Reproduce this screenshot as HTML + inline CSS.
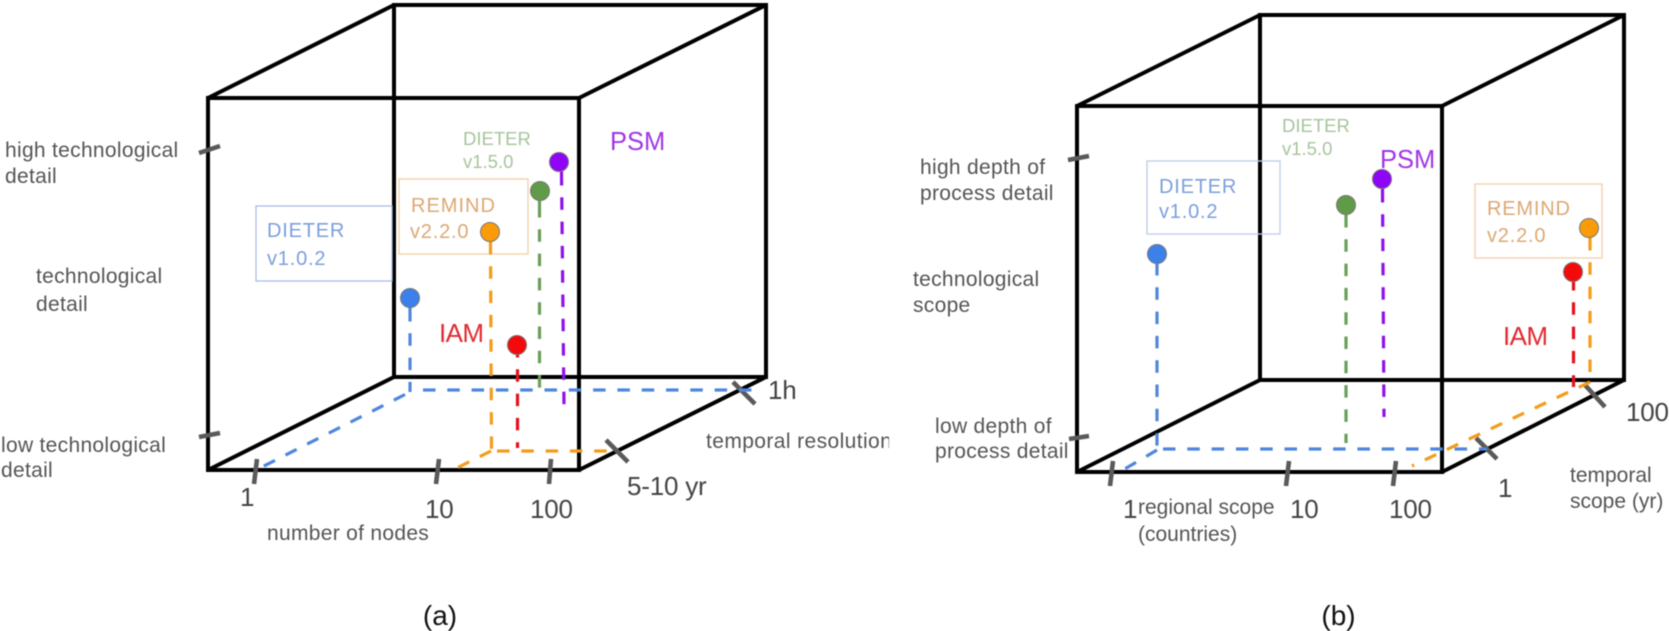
<!DOCTYPE html>
<html>
<head>
<meta charset="utf-8">
<style>
html,body{margin:0;padding:0;background:#fff;width:1669px;height:631px;overflow:hidden}
svg{display:block;filter:blur(.4px)}
text{font-family:"Liberation Sans",sans-serif}
.lb{font-size:21px;letter-spacing:.3px;fill:#555}
.num{font-size:26px;letter-spacing:-.2px;fill:#444}
.cube{fill:none;stroke:#000;stroke-width:4;stroke-linejoin:miter}
.tick{stroke:#5a5a5a;stroke-width:4.600;fill:none}
.d{fill:none;stroke-width:3.200;stroke-dasharray:12.500 11.800}
.s{fill:none;stroke-width:3.200}
.blue{stroke:#4f86dc}.green{stroke:#6a9f58}.orange{stroke:#f39c1c}.red{stroke:#e8101c}.purple{stroke:#9010ea}
.cap{font-size:28px;fill:#111}
</style>
</head>
<body>
<svg width="1669" height="631" viewBox="0 0 1669 631" xmlns="http://www.w3.org/2000/svg">
<!-- PANEL A -->
<g class="cube">
<rect x="208" y="98" width="371" height="372"/>
<rect x="394" y="5" width="372" height="372"/>
<path d="M208 98L394 5M579 98L766 5M208 470L394 377M579 470L766 377"/>
</g>
<g class="tick">
<path d="M199 153L220 146M199 437L220 433M257 459L254 484M439 459L436 484M551 459L549 484M606 440L628 462M733 382L755 404"/>
</g>
<rect x="256" y="206" width="136" height="75" fill="none" stroke="#a9bde6" stroke-width="1.300"/>
<rect x="399" y="179" width="129" height="75" fill="none" stroke="#f0cfa5" stroke-width="1.300"/>
<g>
<path class="s blue" d="M410 298V309"/>
<path class="d blue" d="M410 309V392"/>
<path class="d blue" d="M405 394.500L262 467"/>
<path class="d blue" d="M423 390H755"/>
<path class="s orange" d="M490.500 232V242"/>
<path class="d orange" d="M490.500 242L491.500 450"/>
<path class="d orange" d="M491 451L457 468"/>
<path class="d orange" d="M497 451H616"/>
<path class="d red" d="M517.500 345V448"/>
<path class="s green" d="M539.500 191V205"/>
<path class="d green" d="M539.500 205V390"/>
<path class="s purple" d="M561.500 162V173" stroke-width="3.600"/>
<path class="d purple" d="M561.500 173L564 406" stroke-width="3.600"/>
</g>
<g stroke="#777" stroke-width="1">
<circle cx="410" cy="298" r="9.500" fill="#3c80ea"/>
<circle cx="490" cy="232" r="9.500" fill="#fa9c0a"/>
<circle cx="540" cy="191" r="9.500" fill="#5f9b48"/>
<circle cx="559" cy="162" r="9.500" fill="#8f05f5"/>
<circle cx="517" cy="345" r="9.500" fill="#f40a0a"/>
</g>
<g>
<text x="463" y="145" fill="#a6c49c" font-size="18.500">DIETER</text>
<text x="463" y="168" fill="#a6c49c" font-size="18.500">v1.5.0</text>
<text x="411" y="212" fill="#dda873" font-size="20" letter-spacing="1">REMIND</text>
<text x="410" y="238" fill="#dda873" font-size="20" letter-spacing=".8">v2.2.0</text>
<text x="267" y="237" fill="#7c9fdc" font-size="20" letter-spacing=".8">DIETER</text>
<text x="267" y="265" fill="#7c9fdc" font-size="20" letter-spacing=".8">v1.0.2</text>
<text x="439" y="342" fill="#e22a30" font-size="26" letter-spacing="-.6">IAM</text>
<text x="610" y="150" fill="#a136e6" font-size="25.500">PSM</text>
</g>
<g class="lb">
<text x="5" y="157">high technological</text>
<text x="5" y="183">detail</text>
<text x="36" y="283">technological</text>
<text x="36" y="311">detail</text>
<text x="1" y="452">low technological</text>
<text x="1" y="477">detail</text>
<text x="267" y="540">number of nodes</text>
<text x="706" y="448" letter-spacing=".4">temporal resolution</text>
</g>
<rect x="889" y="420" width="20" height="40" fill="#fff"/>
<g class="num">
<text x="240" y="506">1</text>
<text x="425" y="518">10</text>
<text x="530" y="518">100</text>
<text x="627" y="495">5-10 yr</text>
<text x="768" y="399">1h</text>
</g>
<text class="cap" x="440" y="625" text-anchor="middle">(a)</text>

<!-- PANEL B -->
<g class="cube">
<rect x="1077" y="106" width="365" height="366"/>
<rect x="1260" y="15" width="364" height="365"/>
<path d="M1077 106L1260 15M1442 106L1624 15M1077 472L1260 380M1442 472L1624 380"/>
</g>
<g class="tick">
<path d="M1068 160L1089 156M1069 439L1089 436M1113 461L1110 486M1289 461L1286 486M1396 461L1393 486M1476 438L1497 459M1585 385L1605 407"/>
</g>
<rect x="1147" y="161" width="133" height="73" fill="none" stroke="#bccbe9" stroke-width="1.300"/>
<rect x="1475" y="184" width="127" height="74" fill="none" stroke="#f0cfa5" stroke-width="1.300"/>
<g>
<path class="s blue" d="M1157 254V263"/>
<path class="d blue" d="M1157 263V449"/>
<path class="d blue" d="M1157 450L1123 470"/>
<path class="d blue" d="M1163 449H1487"/>
<path class="s green" d="M1346 205V215"/>
<path class="d green" d="M1346 215V443"/>
<path class="s purple" d="M1382.500 179V190" stroke-width="3.600"/>
<path class="d purple" d="M1382.500 190L1384 417" stroke-width="3.600"/>
<path class="s orange" d="M1590 228V238"/>
<path class="d orange" d="M1590 238V372"/>
<path class="d orange" d="M1590 382L1412 466"/>
<path class="s red" d="M1573.500 272V278"/>
<path class="d red" d="M1573.500 278V387"/>
</g>
<g stroke="#777" stroke-width="1">
<circle cx="1157" cy="254" r="9.500" fill="#3c80ea"/>
<circle cx="1346" cy="205" r="9.500" fill="#5f9b48"/>
<circle cx="1382" cy="179" r="9.500" fill="#8f05f5"/>
<circle cx="1589" cy="228" r="9.500" fill="#fa9c0a"/>
<circle cx="1573" cy="272" r="9.500" fill="#f40a0a"/>
</g>
<g>
<text x="1282" y="132" fill="#a6c49c" font-size="18.500">DIETER</text>
<text x="1282" y="155" fill="#a6c49c" font-size="18.500">v1.5.0</text>
<text x="1159" y="193" fill="#7c9fdc" font-size="20" letter-spacing=".8">DIETER</text>
<text x="1159" y="218" fill="#7c9fdc" font-size="20" letter-spacing=".8">v1.0.2</text>
<text x="1380" y="168" fill="#a136e6" font-size="25.500">PSM</text>
<text x="1487" y="215" fill="#dda873" font-size="20" letter-spacing=".8">REMIND</text>
<text x="1487" y="242" fill="#dda873" font-size="20" letter-spacing=".8">v2.2.0</text>
<text x="1503" y="345" fill="#e22a30" font-size="26" letter-spacing="-.6">IAM</text>
</g>
<g class="lb">
<text x="920" y="174">high depth of</text>
<text x="920" y="200">process detail</text>
<text x="913" y="286">technological</text>
<text x="913" y="312">scope</text>
<text x="935" y="433">low depth of</text>
<text x="935" y="458">process detail</text>
<text x="1138" y="514" letter-spacing="0">regional scope</text>
<text x="1138" y="541" letter-spacing="0">(countries)</text>
<text x="1570" y="482" letter-spacing="0">temporal</text>
<text x="1570" y="508" letter-spacing="0">scope (yr)</text>
</g>
<g class="num">
<text x="1123" y="518">1</text>
<text x="1290" y="518">10</text>
<text x="1389" y="518">100</text>
<text x="1498" y="497">1</text>
<text x="1626" y="421">100</text>
</g>
<text class="cap" x="1338.500" y="625" text-anchor="middle">(b)</text>
</svg>
</body>
</html>
